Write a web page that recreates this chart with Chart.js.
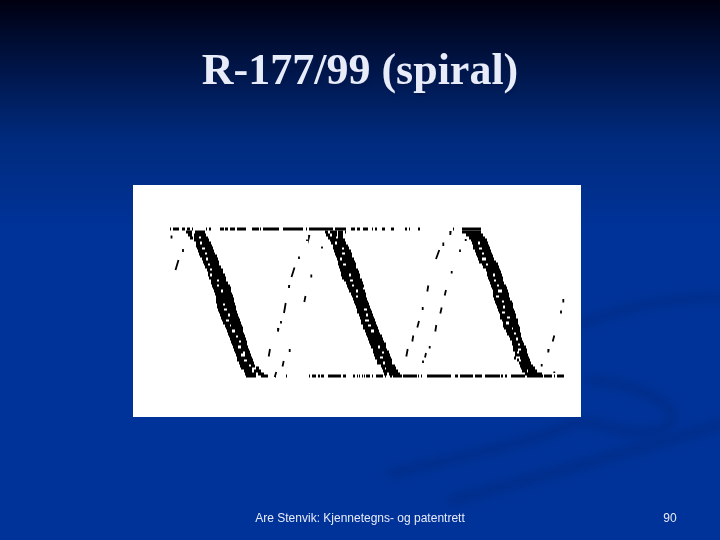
<!DOCTYPE html>
<html>
<head>
<meta charset="utf-8">
<title>R-177/99 (spiral)</title>
<script src="https://cdn.jsdelivr.net/npm/chart.js@4"></script>
<style>
  html, body { margin: 0; padding: 0; background: #003399; }
  #slide { position: relative; width: 720px; height: 540px; overflow: hidden; }
  #chart { position: absolute; left: 0; top: 0; }
  .txt { position: absolute; white-space: nowrap; }
  #title { left: 0; width: 720px; top: 42px; text-align: center; font: bold 44px/56px "Liberation Serif", serif; color: #e8ebf8; text-shadow: 2px 2px 2px #00184f; }
  #footer { left: 160px; width: 400px; top: 511px; text-align: center; font: 12px/14px "Liberation Sans", sans-serif; color: #e8ebf8; }
  #page { left: 640px; width: 60px; top: 511px; text-align: center; font: 12px/14px "Liberation Sans", sans-serif; color: #e8ebf8; }
</style>
</head>
<body>
<div id="slide">
  <canvas id="chart" width="720" height="540"></canvas>
  <div class="txt" id="title">R-177/99 (spiral)</div>
  <div class="txt" id="footer">Are Stenvik: Kjennetegns- og patentrett</div>
  <div class="txt" id="page">90</div>
</div>
<script>
// Everything below: x runs along the panel, y runs down it.
const rowY = [47,50,53,55,58,61,63,66,69,71,74,77,79,82,85,87,90,93,95,98,101,103,106,109,111,114,117,119,122,125,127,130,133,135,138,141,143,146,149,151,154,157,159,162,165,167,170,173,175,178,181,183,186,189];

// Black runs per row as x0,x1,x0,x1...
const band1Runs = [
  [53,59,62,72],[55,59,61,73],[57,60,61,66,68,75],[61,76],[63,67,69,78],[63,79],
  [64,69,72,80],[65,81],[66,72,74,82],[67,84],[69,73,75,85],[70,86],
  [71,75,77,86],[72,88],[74,77,79,90],[75,90],[75,77,79,92],[76,93],
  [78,84,86,93],[78,95],[79,84,86,97],[80,98],[81,88,90,98],[82,99],
  [83,100],[83,101],[83,101],[84,90,92,102],[84,103],[85,91,94,103],
  [86,104],[87,95,97,105],[88,106],[89,93,96,107],[90,108],[92,97,98,109],
  [93,110],[94,99,102,110],[95,111],[96,103,105,112],[97,113],[98,106,108,114],
  [99,114],[100,105,108,115],[101,116],[102,110,112,117],[103,108,112,118],[104,119],
  [104,111,114,120],[106,121],[107,116,118,122],[108,119,123,126],[111,119,121,128],[112,123,125,131]
];
const band2Runs = [
  [192,195,197,204,205,210,212,213],[193,197,199,204,205,210],[195,203,205,210],[197,212],[198,202,204,213],[200,215],
  [200,209,211,216],[201,218],[202,209,212,219],[203,219],[204,207,209,221],[205,222],
  [205,210,213,223],[206,223],[207,225],[208,226],[208,216,218,227],[209,227],
  [211,217,220,229],[213,230],[214,219,221,231],[215,230],[216,223,225,232],[218,233],
  [219,223,225,233],[220,234],[221,235],[222,236],[223,237],[224,231,234,238],
  [224,239],[226,233,235,240],[227,241],[228,232,236,242],[228,243],[230,235,238,244],
  [230,245],[232,238,241,246],[233,247],[234,249],[235,250],[236,251],
  [237,253],[238,245,247,253],[240,254],[240,249,251,256],[241,257],[242,247,250,258],
  [244,259],[244,250,252,259],[248,262],[249,252,253,263],[250,265],[251,254,256,267]
];
const band3Runs = [
  [329,348],[333,350],[336,352],[338,354],[339,345,347,355],[340,356],
  [340,346,349,357],[342,358],[343,349,351,359],[344,360],[345,349,353,361],[346,363],
  [349,353,355,365],[350,366],[353,367],[354,368],[354,360,362,369],[355,370],
  [356,361,363,370],[357,371],[358,364,366,373],[359,374],[360,365,369,375],[360,376],
  [360,363,366,376],[361,377],[362,369,371,379],[363,380],[364,370,372,380],[365,381],
  [366,369,372,382],[367,383],[367,374,377,383],[369,385],[370,373,376,385],[370,386],
  [371,379,380,387],[373,387],[374,381,383,388],[376,388],[377,383,385,389],[379,390],
  [379,385,387,391],[380,393],[380,385,388,394],[382,384,386,394],[382,395],[381,383,387,396],
  [384,386,388,397],[386,398],[387,400],[388,402],[389,394,395,404],[392,409]
];

const upperY = 44;
const upperRuns = [37,38,40,46,49,52,54,57,59,60,73,74,76,78,87,91,92,95,97,102,104,113,119,126,127,128,130,146,150,170,173,174,176,200,202,213,218,222,224,227,230,235,239,240,242,244,249,252,258,261,272,274,276,277,285,287,320,321,329,348];
const lowerY = 191;
const lowerRuns = [113,123,128,135,142,143,153,154,176,177,179,183,185,187,188,191,195,208,210,213,220,222,224,225,226,227,229,230,231,232,233,237,239,240,243,250,252,253,257,259,260,269,270,284,285,286,288,289,294,318,322,325,327,340,342,349,352,367,368,370,372,374,378,392,394,410,411,419,421,422,424,431];

// Thin rising streaks between the bands: x0,y0,x1,y1
const streaks = [
  [38.5,50.5,38.5,53.5],[50,64,50,67],[45.5,75,42.5,85],[176.5,50,176,52],[174,54.5,174,56],[189,61.5,189,63.5],
  [166,71.5,166,74],[161.5,82.5,158.5,92],[178.3,89.5,178.3,92.5],[156.3,100,156,103],[172.5,111,171.3,117],[152.7,118,151,128],
  [148,136,148,138.5],[145.5,143,145,146.5],[137,164,135.7,171.5],[156.7,164,156.7,167],[150.7,176,149.5,181.5],[143.3,187,141.7,192],
  [317.7,46,317.3,50],[310.3,57.5,310.3,61],[306.3,65,303,74],[327,64.5,327,67],[332.7,54,332.7,56],[318.7,86,318.7,88.5],
  [295.3,100.5,294.3,106.5],[313,105,311.7,110.5],[289.7,122,289.7,125],[308.7,122.5,307.3,128.5],[286,136,284.3,142.5],[303.3,140,302.3,146.5],
  [280.3,150.5,279.3,156.5],[296.7,161,296.7,163.5],[293,168,292,172.5],[290,175.5,290,178],[274.7,164,273.3,171.5],
  [430.3,114,430.3,117.5],[428,125.5,428,128.5],[421.3,150.5,419.7,156.5],[415.7,164,415.3,167.5],[408.7,179,408.7,181.5],[421.3,186.5,421.3,188]
];

function runsToPoints(y, runs) {
  const pts = [];
  for (let i = 0; i < runs.length; i += 2) {
    pts.push({ x: runs[i], y }, { x: runs[i + 1], y }, { x: null, y: null });
  }
  return pts;
}
function bandToPoints(runsPerRow) {
  return runsPerRow.flatMap((runs, i) => runsToPoints(rowY[i], runs));
}
function streaksToPoints() {
  return streaks.flatMap((s) => [{ x: s[0], y: s[1] }, { x: s[2], y: s[3] }, { x: null, y: null }]);
}

const lineStyle = {
  showLine: true, borderColor: '#000', borderCapStyle: 'butt', borderJoinStyle: 'miter',
  pointRadius: 0, tension: 0, spanGaps: false,
};

// Slide backdrop: dark-to-blue gradient, faint swooshes, then the white plot panel
const slideBackdrop = {
  id: 'slideBackdrop',
  beforeDraw(chart) {
    const { ctx, chartArea: a } = chart;
    ctx.save();
    const g = ctx.createLinearGradient(0, 0, 0, 230);
    g.addColorStop(0, '#000010');
    g.addColorStop(0.25, '#001240');
    g.addColorStop(0.6, '#002a7c');
    g.addColorStop(1, '#003399');
    ctx.fillStyle = g;
    ctx.fillRect(0, 0, 720, 540);
    ctx.filter = 'blur(4px)';
    ctx.strokeStyle = '#002e8c';
    ctx.lineCap = 'round';
    ctx.lineWidth = 10;
    ctx.beginPath();
    ctx.moveTo(583, 323);
    ctx.quadraticCurveTo(650, 298, 720, 297);
    ctx.stroke();
    ctx.lineWidth = 11;
    ctx.beginPath();
    ctx.moveTo(590, 380);
    ctx.bezierCurveTo(650, 385, 695, 415, 660, 430);
    ctx.bezierCurveTo(630, 440, 600, 420, 577, 422);
    ctx.bezierCurveTo(540, 440, 470, 455, 393, 473);
    ctx.stroke();
    ctx.lineWidth = 12;
    ctx.beginPath();
    ctx.moveTo(725, 423);
    ctx.quadraticCurveTo(620, 455, 453, 500);
    ctx.stroke();
    ctx.filter = 'none';
    ctx.fillStyle = '#fff';
    ctx.fillRect(a.left, a.top, a.width, a.height);
    ctx.restore();
  },
};

new Chart(document.getElementById('chart'), {
  type: 'scatter',
  data: {
    datasets: [
      { ...lineStyle, label: 'band 1', data: bandToPoints(band1Runs), borderWidth: 3.2 },
      { ...lineStyle, label: 'band 2', data: bandToPoints(band2Runs), borderWidth: 3.2 },
      { ...lineStyle, label: 'band 3', data: bandToPoints(band3Runs), borderWidth: 3.2 },
      { ...lineStyle, label: 'upper limit', data: runsToPoints(upperY, upperRuns), borderWidth: 2.8 },
      { ...lineStyle, label: 'lower limit', data: runsToPoints(lowerY, lowerRuns), borderWidth: 2.8 },
      { ...lineStyle, label: 'streaks', data: streaksToPoints(), borderWidth: 1.8 },
    ],
  },
  options: {
    responsive: false,
    animation: false,
    events: [],
    layout: { padding: { left: 133, right: 139, top: 185, bottom: 123 } },
    plugins: { legend: { display: false }, tooltip: { enabled: false } },
    scales: {
      x: { type: 'linear', min: 0, max: 448, display: false },
      y: { type: 'linear', min: 0, max: 232, reverse: true, display: false },
    },
  },
  plugins: [slideBackdrop],
});
</script>
</body>
</html>
